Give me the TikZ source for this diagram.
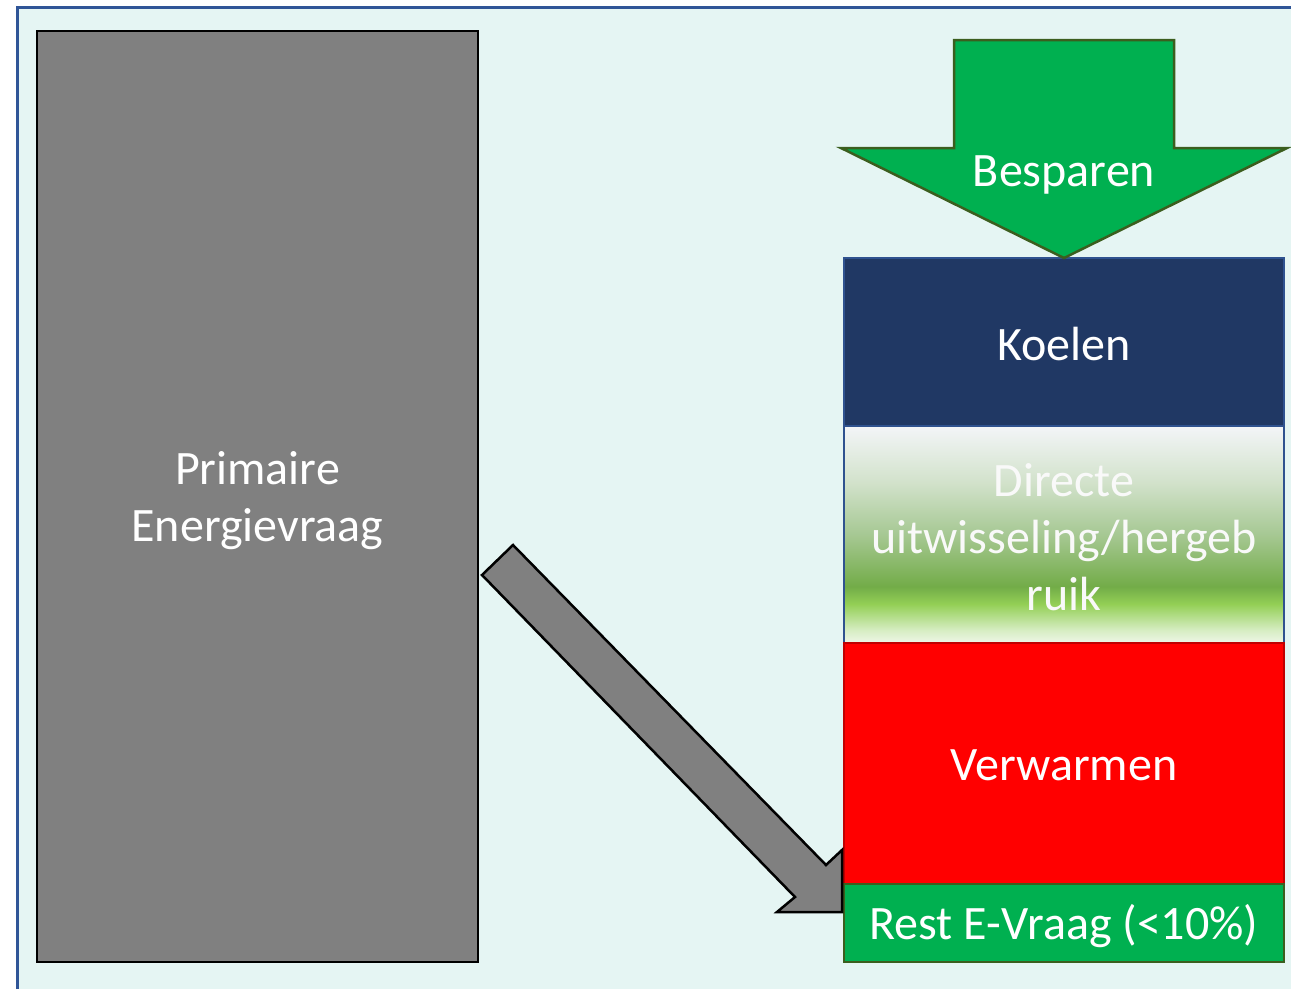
\documentclass[tikz,border=0pt]{standalone}
\usepackage{fontspec}
\setmainfont{Carlito}
\usetikzlibrary{positioning}
\definecolor{panelbg}{HTML}{E5F5F3}
\definecolor{panelline}{HTML}{2F5597}
\definecolor{greyblock}{HTML}{808080}
\definecolor{savegreen}{HTML}{00B050}
\definecolor{saveline}{HTML}{3B5E1E}
\definecolor{coolblue}{HTML}{203864}
\definecolor{coolline}{HTML}{2F528F}
\definecolor{heatred}{HTML}{FF0000}
\definecolor{heatline}{HTML}{C00000}
\definecolor{dgA}{HTML}{EEF6E8}
\definecolor{dgB}{HTML}{D6EDC2}
\definecolor{dgC}{HTML}{93CF55}
\definecolor{dgD}{HTML}{72AC48}
\definecolor{dgE}{HTML}{A6C893}
\definecolor{dgF}{HTML}{D2E2CB}
\definecolor{dgG}{HTML}{F3F5F8}
\pgfdeclareverticalshading{exchangefill}{100bp}{
	color(0bp)=(dgA); color(25bp)=(dgA); color(28bp)=(dgB);
	color(34bp)=(dgC); color(38bp)=(dgD); color(50bp)=(dgE);
	color(62bp)=(dgF); color(75bp)=(dgG); color(100bp)=(dgG)}
\newcommand{\lowered}[2]{\raisebox{-#1}[\height][\depth]{#2}}
\tikzstyle{layer}=[
	rectangle,
	line width=2pt,
	inner sep=0pt,
	outer sep=0pt,
	minimum width=440pt,
	text=white,
	align=center,
	node distance=0pt
]
\tikzstyle{block arrow}=[
	line width=2.5pt,
	line join=miter
]

\begin{document}
\begin{tikzpicture}[x=1pt,y=-1pt,font=\fontsize{48}{57}\selectfont]
\useasboundingbox (0,0) rectangle (1291,989);
% background panel
\fill [panelbg] (17,7) rectangle (1291,989);
\draw [panelline, line width=3pt] (17,989) -- (17,7) -- (1291,7);
% primary demand
\node [rectangle, draw=black, line width=2.5pt, fill=greyblock, text=white,
	minimum width=441pt, minimum height=931pt, align=center] (Primary)
	at (257.5,496.5) {\lowered{4pt}{\parbox{400pt}{\centering Primaire\\Energievraag}}};
% stacked demand layers
\node [layer, fill=coolblue, draw=coolline, minimum height=168pt, anchor=north]
	(Cooling) at (1064,258) {\lowered{2pt}{Koelen}};
\node [layer, shading=exchangefill, draw=coolline, minimum height=217pt,
	text=white!95!gray] (Exchange) [below=of Cooling]
	{\lowered{3pt}{\parbox{430pt}{\centering Directe\\uitwisseling/hergeb\\ruik}}};
\node [layer, fill=heatred, draw=heatline, minimum height=241pt] (Heating)
	[below=of Exchange] {\lowered{2pt}{Verwarmen}};
\node [layer, fill=savegreen, draw=saveline, minimum height=78pt] (Rest)
	[below=of Heating] {\lowered{3pt}{Rest E-Vraag (<10\%)}};
% saving arrow
\draw [block arrow, fill=savegreen, draw=saveline]
	(954,40) -- (1174,40) -- (1174,148) -- (1287,148) -- (Cooling.north)
	-- (841,148) -- (954,148) -- cycle;
\node [text=white] (Saving) at (1064,175) {Besparen};
% remaining demand arrow
\draw [block arrow, fill=greyblock, draw=black]
	(482,575) -- (513,545) -- (826,865) -- (842,850) -- (842,912)
	-- (777,912) -- (795,897) -- cycle;
\end{tikzpicture}
\end{document}
